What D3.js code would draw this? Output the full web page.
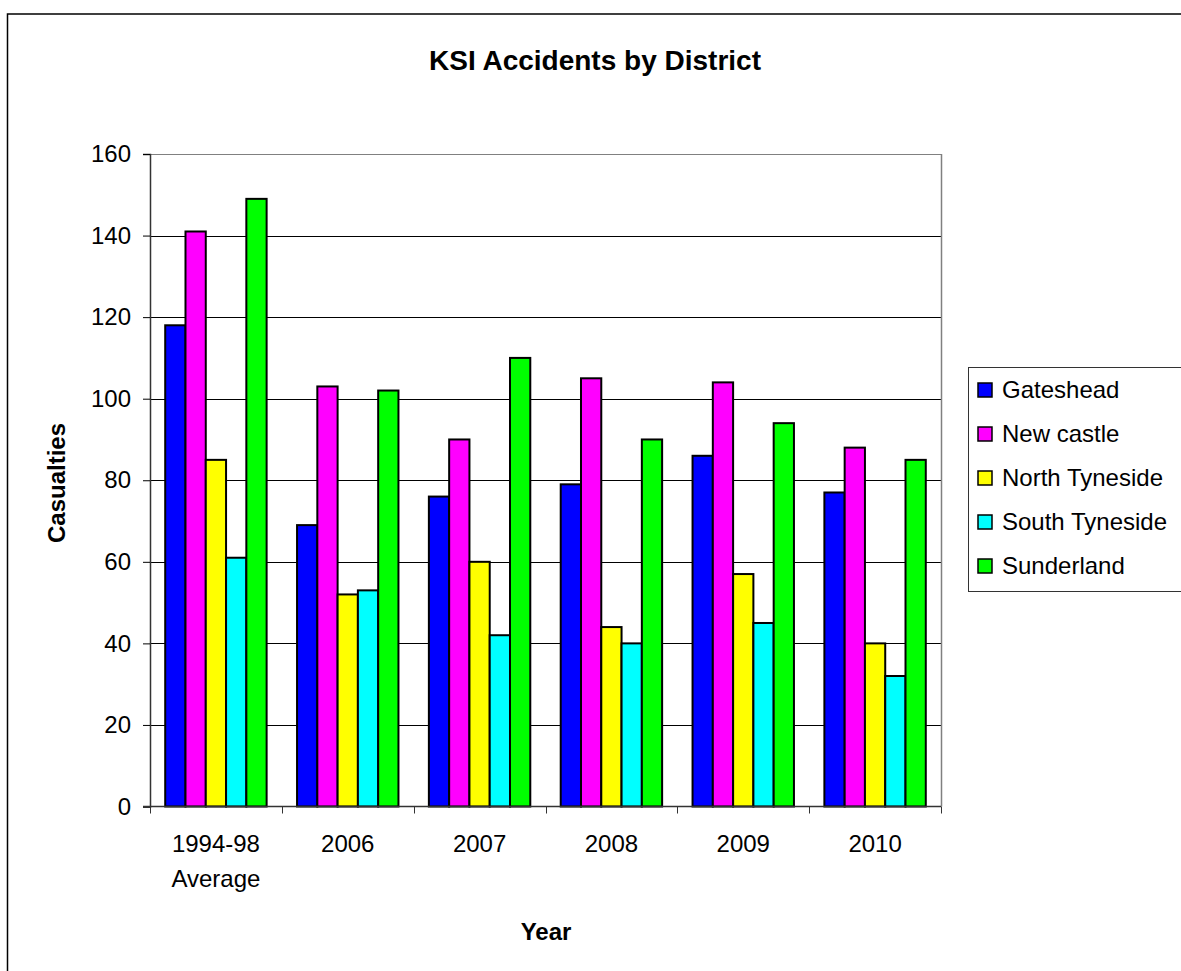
<!DOCTYPE html>
<html>
<head>
<meta charset="utf-8">
<script src="https://cdn.jsdelivr.net/npm/d3@7"></script>
<style>
  body { margin: 0; background: #fff; }
  svg { display: block; font-family: Arial, "Liberation Sans", sans-serif; }
</style>
</head>
<body>
<div id="chart"></div>
<script>
const years = ["1994-98 Average", "2006", "2007", "2008", "2009", "2010"];
const districts = ["Gateshead", "New castle", "North Tyneside", "South Tyneside", "Sunderland"];
const districtColors = ["#0000ff", "#ff00ff", "#ffff00", "#00ffff", "#00ff00"];

const gateshead     = [118, 69, 76, 79, 86, 77];
const newcastle     = [141, 103, 90, 105, 104, 88];
const northTyneside = [85, 52, 60, 44, 57, 40];
const southTyneside = [61, 53, 42, 40, 45, 32];
const sunderland    = [149, 102, 110, 90, 94, 85];
const seriesValues = [gateshead, newcastle, northTyneside, southTyneside, sunderland];

const yTicks = [0, 20, 40, 60, 80, 100, 120, 140, 160];

const W = 1181, H = 971;
const plot = { left: 150, top: 154, right: 941, bottom: 806.5 };
const FONT = 24;

const svg = d3.select("#chart").append("svg")
  .attr("width", W).attr("height", H);

svg.append("rect").attr("width", W).attr("height", H).attr("fill", "#fff");

// outer chart border
svg.append("rect")
  .attr("x", 7.5).attr("y", 14)
  .attr("width", W + 10).attr("height", H + 10)
  .attr("fill", "none").attr("stroke", "#000").attr("stroke-width", 1.5);

const x0 = d3.scaleBand().domain(years).range([plot.left, plot.right]).paddingInner(0).paddingOuter(0);
// Excel gap width ~150%: 5 bars + 1.5 bar widths of gap
const gapShare = 1.5 / 6.5;
const x1 = d3.scaleBand().domain(districts)
  .range([x0.bandwidth() * gapShare / 2, x0.bandwidth() * (1 - gapShare / 2)]);
const y = d3.scaleLinear().domain([0, 160]).range([plot.bottom, plot.top]);

// gridlines
svg.append("g").selectAll("line")
  .data(yTicks.filter(d => d > 0))
  .enter().append("line")
  .attr("x1", plot.left).attr("x2", plot.right)
  .attr("y1", d => Math.round(y(d)) + 0.5).attr("y2", d => Math.round(y(d)) + 0.5)
  .attr("stroke", d => d === 160 ? "#808080" : "#000").attr("stroke-width", 1);

// right plot border
svg.append("line")
  .attr("x1", plot.right + 0.5).attr("x2", plot.right + 0.5)
  .attr("y1", plot.top).attr("y2", plot.bottom)
  .attr("stroke", "#808080").attr("stroke-width", 1.5);

// bars
const groups = svg.append("g").selectAll("g")
  .data(years)
  .enter().append("g")
  .attr("transform", d => `translate(${x0(d)},0)`);

groups.selectAll("rect")
  .data((yr, i) => districts.map((name, k) => ({ name, k, value: seriesValues[k][i] })))
  .enter().append("rect")
  .attr("x", d => x1(d.name))
  .attr("width", x1.bandwidth())
  .attr("y", d => y(d.value))
  .attr("height", d => plot.bottom - y(d.value))
  .attr("fill", d => districtColors[d.k])
  .attr("stroke", "#000").attr("stroke-width", 2);

// y axis
const yAxis = svg.append("g")
  .attr("transform", `translate(${plot.left},0)`)
  .call(d3.axisLeft(y).tickValues(yTicks).tickSize(7).tickPadding(12));
yAxis.select(".domain").attr("stroke", "#333").attr("stroke-width", 1.5);
yAxis.selectAll(".tick line").attr("stroke", "#000");
yAxis.selectAll("text").attr("font-size", FONT).attr("fill", "#000")
  .attr("font-family", "Arial, 'Liberation Sans', sans-serif");

// x axis
svg.append("line")
  .attr("x1", plot.left - 7).attr("x2", plot.right)
  .attr("y1", plot.bottom).attr("y2", plot.bottom)
  .attr("stroke", "#333").attr("stroke-width", 1.5);
svg.append("g").selectAll("line")
  .data(years.map(d => x0(d)).concat([plot.right]))
  .enter().append("line")
  .attr("x1", d => Math.round(d) + 0.5).attr("x2", d => Math.round(d) + 0.5)
  .attr("y1", plot.bottom).attr("y2", plot.bottom + 7)
  .attr("stroke", "#333").attr("stroke-width", 1);

years.forEach(yr => {
  const lines = yr.split(" ");
  const t = svg.append("text")
    .attr("x", x0(yr) + x0.bandwidth() / 2)
    .attr("y", 852)
    .attr("text-anchor", "middle")
    .attr("font-size", FONT);
  lines.forEach((ln, i) => {
    t.append("tspan")
      .attr("x", x0(yr) + x0.bandwidth() / 2)
      .attr("dy", i === 0 ? 0 : 35)
      .text(ln);
  });
});

// title and axis labels
svg.append("text")
  .attr("x", 595).attr("y", 70)
  .attr("text-anchor", "middle")
  .attr("font-size", 28).attr("font-weight", "bold")
  .text("KSI Accidents by District");

svg.append("text")
  .attr("x", 546).attr("y", 940)
  .attr("text-anchor", "middle")
  .attr("font-size", FONT).attr("font-weight", "bold")
  .text("Year");

svg.append("text")
  .attr("transform", "translate(65,483) rotate(-90)")
  .attr("text-anchor", "middle")
  .attr("font-size", FONT).attr("font-weight", "bold")
  .text("Casualties");

// legend
const legend = svg.append("g").attr("transform", "translate(968,367)");
legend.append("rect")
  .attr("x", 0.5).attr("y", 0.5)
  .attr("width", 240).attr("height", 224)
  .attr("fill", "#fff").attr("stroke", "#333").attr("stroke-width", 1);

const items = legend.selectAll("g.item")
  .data(districts)
  .enter().append("g")
  .attr("class", "item")
  .attr("transform", (d, i) => `translate(0,${23 + i * 44})`);
items.append("rect")
  .attr("x", 10).attr("y", -7)
  .attr("width", 14).attr("height", 14)
  .attr("fill", (d, i) => districtColors[i])
  .attr("stroke", "#000").attr("stroke-width", 1.5);
items.append("text")
  .attr("x", 34).attr("y", 8)
  .attr("font-size", FONT)
  .text(d => d);
</script>
</body>
</html>
